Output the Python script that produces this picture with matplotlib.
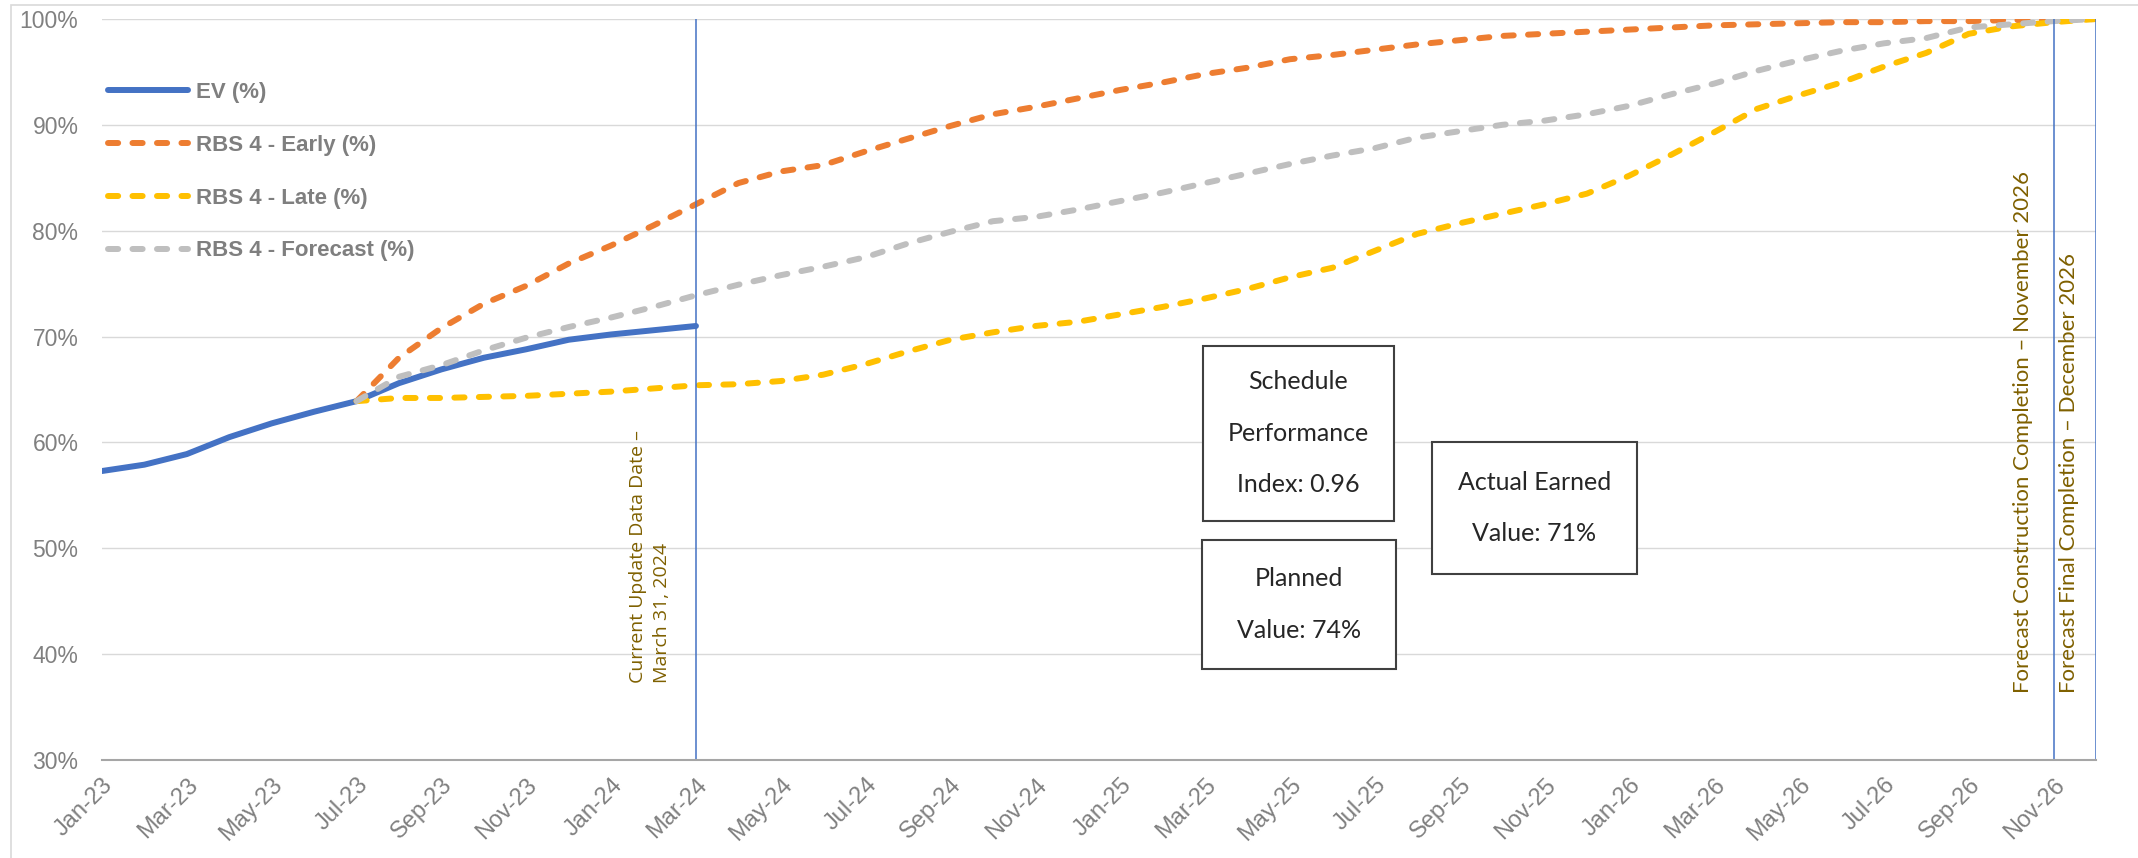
import numpy as np
import matplotlib
matplotlib.use("Agg")
import matplotlib.pyplot as plt
from matplotlib.patches import Rectangle

W, H = 2138, 858

# month categories, Jan-23 .. Dec-26
years = ["23", "24", "25", "26"]
mnames = ["Jan", "Feb", "Mar", "Apr", "May", "Jun", "Jul", "Aug", "Sep", "Oct", "Nov", "Dec"]
months = [m + "-" + y for y in years for m in mnames]

# EV (%) Jan-23 .. Mar-24
ev = [57.3, 57.9, 58.9, 60.5, 61.8, 62.9, 63.9, 65.6, 66.9, 68.0, 68.8, 69.7, 70.2, 70.6, 71.0]

# baselines start at Jul-23
base_start = "Jul-23"
early = [63.9, 68.0, 70.8, 73.1, 74.8, 76.9, 78.6, 80.5, 82.5, 84.5, 85.6, 86.2, 87.5, 88.7,
         89.9, 91.0, 91.7, 92.5, 93.3, 94.0, 94.8, 95.4, 96.2, 96.6, 97.1, 97.6, 98.0, 98.4,
         98.6, 98.8, 99.0, 99.2, 99.4, 99.5, 99.6, 99.7, 99.7, 99.8, 99.8, 99.9, 99.9, 100.0]
late = [63.9, 64.2, 64.2, 64.3, 64.4, 64.6, 64.8, 65.1, 65.4, 65.5, 65.8, 66.4, 67.4, 68.6,
        69.7, 70.4, 71.0, 71.4, 72.1, 72.8, 73.6, 74.5, 75.6, 76.5, 78.1, 79.7, 80.7, 81.6,
        82.5, 83.5, 85.2, 87.2, 89.3, 91.5, 92.8, 94.0, 95.5, 96.8, 98.6, 99.3, 99.7, 100.0]
forecast = [63.9, 66.2, 67.3, 68.7, 69.9, 70.9, 71.8, 72.8, 73.9, 74.9, 75.8, 76.6, 77.5, 78.8,
            79.9, 80.9, 81.3, 82.0, 82.8, 83.6, 84.5, 85.4, 86.3, 87.1, 87.8, 88.8, 89.4, 90.0,
            90.4, 91.0, 91.8, 92.9, 93.9, 95.1, 96.1, 97.0, 97.7, 98.2, 99.2, 99.5, 99.8, 100.0]

# milestone markers
milestones = ["Mar-24", "Nov-26", "Dec-26"]

fig = plt.figure(figsize=(W / 100, H / 100), dpi=100)
ax = fig.add_axes([102 / W, 1 - 760 / H, (2096 - 102) / W, (760 - 19) / H])

x_ev = np.arange(len(ev))
i0 = months.index(base_start)
x_b = np.arange(i0, i0 + len(early))

lw = 4.3
dash = (0, (1.7, 2.4))
ax.plot(x_ev, ev, color="#4472C4", lw=lw, solid_capstyle="round", label="EV (%)", zorder=3)
ax.plot(x_b, early, color="#ED7D31", lw=lw, ls=dash, dash_capstyle="round",
        label="RBS 4 - Early (%)", zorder=3)
ax.plot(x_b, late, color="#FFC000", lw=lw, ls=dash, dash_capstyle="round",
        label="RBS 4 - Late (%)", zorder=3)
ax.plot(x_b, forecast, color="#BFBFBF", lw=lw, ls=dash, dash_capstyle="round",
        label="RBS 4 - Forecast (%)", zorder=3)

ax.vlines([months.index(m) for m in milestones], 30, 100, color="#4472C4", lw=1.1, zorder=4)

ax.set_xlim(0, len(months) - 1)
ax.set_ylim(30, 100)
ax.set_yticks(np.arange(30, 101, 10))
ax.set_yticklabels([f"{v}%" for v in range(30, 101, 10)])
ax.set_xticks(np.arange(0, len(months), 2))
ax.set_xticklabels(months[::2], rotation=45, ha="right", rotation_mode="anchor")
ax.tick_params(axis="both", length=0, colors="#808080")
ax.tick_params(axis="y", pad=17, labelsize=16.5)
ax.tick_params(axis="x", pad=10, labelsize=17)
for t in ax.get_xticklabels() + ax.get_yticklabels():
    t.set_family("Liberation Sans")

ax.yaxis.grid(True, color="#D9D9D9", lw=1.0)
ax.set_axisbelow(True)
for s in ["left", "right", "top"]:
    ax.spines[s].set_visible(False)
ax.spines["bottom"].set_color("#A6A6A6")
ax.spines["bottom"].set_linewidth(1.5)
ax.spines["bottom"].set_zorder(5)

leg = ax.legend(loc="upper left", bbox_to_anchor=(0.003, 0.915), frameon=False,
                prop=dict(family="Liberation Sans", weight="bold", size=16),
                labelcolor="#7F7F7F", handlelength=3.6, handletextpad=0.35,
                labelspacing=1.43, borderpad=0, borderaxespad=0)

# outer chart frame (only top and left edges fall inside the image)
fig.add_artist(Rectangle((11 / W, -0.05), 1.1, 1.05 - 5 / H, transform=fig.transFigure,
                         fill=False, ec="#D9D9D9", lw=1.2))


def box(x0, y0, x1, y1, text):
    fig.add_artist(Rectangle((x0 / W, 1 - y1 / H), (x1 - x0) / W, (y1 - y0) / H,
                             transform=fig.transFigure, facecolor="white",
                             ec="#404040", lw=1.5, zorder=6))
    fig.text((x0 + x1) / 2 / W, 1 - (y0 + y1) / 2 / H, text, ha="center", va="center",
             family="Lato", fontsize=18, color="#262626", linespacing=2.5, zorder=7)


box(1203, 346, 1394, 521, "Schedule\nPerformance\nIndex: 0.96")
box(1202, 540, 1396, 669, "Planned\nValue: 74%")
box(1432, 442, 1637, 574, "Actual Earned\nValue: 71%")

olive = "#7F6000"
fig.text(650 / W, 1 - 683 / H, "Current Update Data Date \u2013\nMarch 31, 2024", rotation=90,
         ha="center", va="bottom", multialignment="left", color=olive,
         family="Open Sans", fontsize=14, linespacing=1.45)
fig.text(2023 / W, 1 - 693 / H, "Forecast Construction Completion \u2013 November 2026",
         rotation=90, ha="center", va="bottom", color=olive, family="Lato", fontsize=16)
fig.text(2069 / W, 1 - 693 / H, "Forecast Final Completion \u2013 December 2026",
         rotation=90, ha="center", va="bottom", color=olive, family="Lato", fontsize=16)

fig.savefig("out.png", dpi=100)
